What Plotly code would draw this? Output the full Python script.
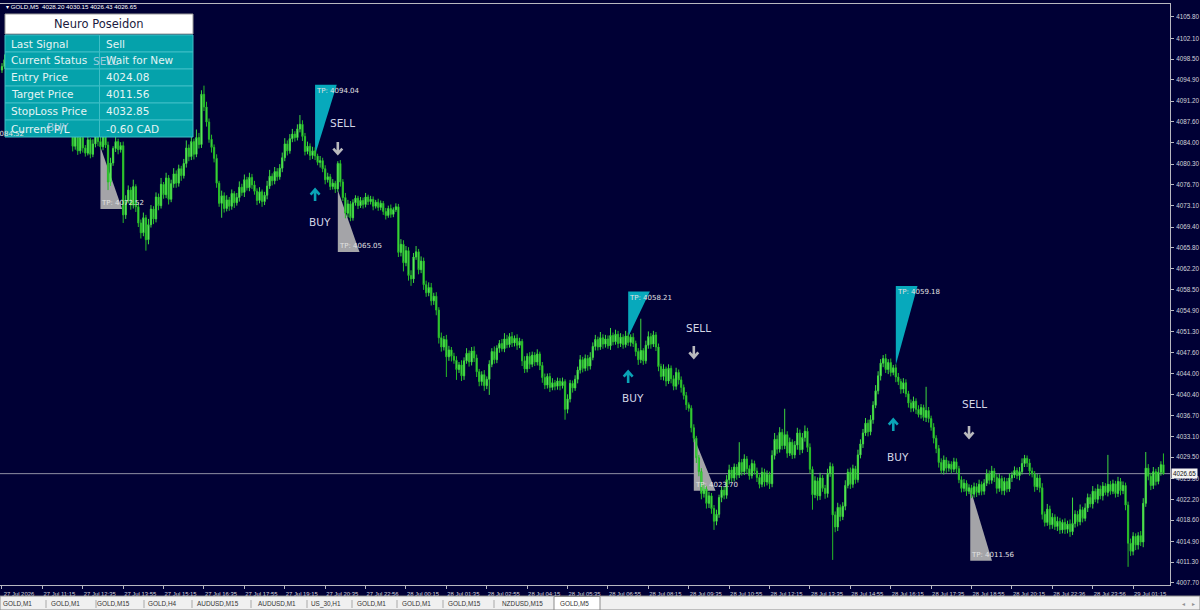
import plotly.graph_objects as go

W, H = 1200, 610
NAVY = "#000035"

# ---- GOLD,M5 bars (close of each 5 minute bar, oldest first) ----
first_open = 4096.6
closes = [
    4097.2, 4098.4, 4096.9, 4097.8, 4099.1, 4098.3, 4097.0, 4095.6, 4096.2, 4094.8,
    4095.5, 4093.9, 4094.6, 4092.8, 4093.4, 4091.7, 4092.5, 4090.9, 4091.6, 4090.2,
    4089.4, 4090.1, 4088.8, 4089.9, 4091.2, 4090.4, 4088.6, 4086.9, 4083.4, 4085.6,
    4082.6, 4084.9, 4083.1, 4082.2, 4084.5, 4082.0, 4083.8, 4085.4, 4084.2, 4083.3,
    4085.0, 4083.6, 4077.2, 4080.5, 4083.0, 4084.2, 4082.8, 4083.5, 4071.5, 4074.0,
    4075.8, 4073.2, 4076.4, 4072.9, 4070.1, 4068.4, 4071.0, 4067.2, 4069.8, 4072.5,
    4070.8, 4074.6, 4073.1, 4076.8, 4075.0, 4077.9, 4074.2, 4076.9, 4078.6, 4077.0,
    4079.5, 4078.3, 4080.4, 4083.1, 4081.6, 4084.2, 4082.0, 4084.9, 4083.7, 4092.4,
    4090.2, 4087.6, 4084.6, 4083.2, 4081.3, 4077.0, 4073.5, 4074.8, 4072.6, 4074.1,
    4073.0, 4075.2, 4073.6, 4074.5, 4076.3, 4075.4, 4077.6, 4076.2, 4078.0, 4076.7,
    4075.6, 4074.0, 4075.5, 4073.8, 4074.9, 4076.5, 4078.2, 4077.4, 4079.0, 4078.1,
    4079.6, 4081.4, 4083.8, 4082.6, 4084.7, 4085.5, 4084.9, 4086.4, 4087.2, 4085.1,
    4082.5, 4083.4, 4081.8, 4082.6, 4081.7, 4080.6, 4080.9, 4079.5, 4077.6, 4078.1,
    4076.4, 4077.0, 4076.0, 4080.4, 4077.2, 4074.5, 4071.8, 4073.4, 4071.0, 4073.6,
    4074.4, 4073.1, 4074.0, 4073.3, 4074.6, 4073.8, 4074.2, 4073.0, 4073.7, 4072.8,
    4073.5, 4072.1, 4071.4, 4072.6, 4071.6, 4072.4, 4072.9, 4065.0, 4066.4, 4063.2,
    4065.3, 4061.0, 4060.4, 4064.2, 4065.1, 4062.0, 4063.5, 4059.4, 4058.0, 4058.9,
    4056.6, 4057.4, 4055.0, 4050.2, 4048.6, 4049.9, 4046.9, 4048.1, 4047.0, 4046.3,
    4044.7, 4045.5, 4043.6, 4046.2, 4047.5, 4046.0, 4047.9, 4046.7, 4044.3, 4042.6,
    4043.8, 4041.9, 4043.0, 4045.6, 4047.8, 4046.4, 4048.4, 4049.2, 4048.3, 4050.0,
    4049.0, 4050.4, 4049.3, 4050.1, 4048.9, 4049.6, 4046.2, 4044.8, 4047.0, 4045.6,
    4047.2, 4046.0, 4047.4, 4045.4, 4043.3, 4042.0, 4043.5, 4041.6, 4042.4, 4041.8,
    4042.7, 4041.9, 4042.6, 4037.8, 4039.6, 4042.3, 4041.5, 4043.0, 4044.6, 4046.4,
    4044.9, 4046.6, 4045.3, 4046.8, 4048.7, 4049.9, 4048.6, 4050.2, 4049.1, 4050.0,
    4048.8, 4050.6, 4049.5, 4050.8, 4049.2, 4050.3, 4049.0, 4050.5, 4049.4, 4050.3,
    4049.2, 4047.8, 4046.4, 4048.0, 4046.2, 4048.9, 4050.4, 4049.1, 4050.7, 4048.6,
    4045.2, 4043.5, 4044.8, 4042.7, 4044.9, 4043.1, 4041.8, 4044.2, 4042.9, 4041.6,
    4040.2, 4038.6, 4038.0, 4034.6, 4032.8, 4029.4, 4027.0, 4023.2, 4024.0, 4021.5,
    4022.8, 4020.6, 4018.4, 4019.6, 4022.5, 4023.8, 4022.9, 4025.6, 4027.3, 4025.9,
    4027.8, 4026.4, 4028.6, 4027.0, 4029.2, 4027.5, 4026.3, 4028.4, 4027.1, 4026.0,
    4024.8, 4026.9, 4025.2, 4026.5, 4024.9, 4029.8, 4032.6, 4030.9, 4033.8, 4031.5,
    4033.4, 4030.2, 4032.1, 4029.9, 4031.6, 4033.7, 4030.8, 4032.9, 4034.0, 4031.2,
    4027.4, 4023.0, 4025.4, 4022.8, 4025.9, 4024.1, 4023.2, 4026.7, 4027.9, 4019.5,
    4017.4, 4020.8, 4019.2, 4021.0, 4024.6, 4026.9, 4024.8, 4027.5, 4025.6, 4029.9,
    4031.8, 4033.7, 4035.4, 4033.9, 4036.0, 4038.5, 4041.0, 4043.6, 4045.8, 4046.6,
    4044.7, 4045.9, 4044.2, 4045.0, 4043.4, 4042.6, 4041.3, 4042.4, 4040.5, 4038.9,
    4038.0, 4039.2, 4037.8, 4036.9, 4038.1, 4036.4, 4037.6, 4036.2, 4034.7, 4032.8,
    4031.0, 4028.6, 4027.2, 4029.0, 4027.6, 4028.3, 4027.4, 4028.7, 4027.5, 4025.6,
    4024.1, 4025.0, 4023.6, 4024.2, 4023.1, 4024.4, 4023.4, 4024.8, 4023.6, 4025.0,
    4026.6, 4025.5, 4027.1, 4026.0, 4024.1, 4025.8, 4023.7, 4025.3, 4024.0, 4025.9,
    4026.4, 4027.2, 4026.3, 4027.0, 4028.4, 4029.3, 4028.5, 4027.1, 4026.6, 4024.4,
    4025.9, 4024.2, 4019.6, 4018.2, 4020.5, 4017.8, 4019.1, 4017.5, 4018.4, 4016.9,
    4018.2, 4017.0, 4017.9, 4016.6, 4018.0, 4019.6, 4018.3, 4020.4, 4018.9, 4020.7,
    4022.5, 4021.4, 4023.6, 4022.2, 4024.0, 4022.8, 4024.5, 4023.4, 4024.8, 4023.6,
    4024.9, 4023.2, 4025.3, 4023.7, 4024.6, 4021.2, 4014.6, 4013.2, 4015.8, 4014.3,
    4015.9, 4014.8, 4021.5, 4027.6, 4026.2, 4024.6, 4027.0, 4025.3, 4026.9, 4028.2, 4026.65,
]
# upper / lower shadow lengths of each bar
wick_up = [
    0.6, 0.9, 0.4, 0.7, 1.1, 0.5, 0.3, 0.8, 0.6, 0.4,
    0.7, 0.5, 0.9, 0.3, 0.6, 0.8, 0.4, 0.7, 0.5, 0.6,
    0.4, 0.8, 0.5, 0.9, 1.2, 0.6, 0.7, 0.4, 0.5, 0.8,
    0.6, 0.4, 0.7, 0.5, 0.9, 0.3, 0.8, 1.0, 0.6, 2.0,
    0.7, 0.5, 0.6, 0.9, 0.4, 0.8, 0.5, 0.6, 0.7, 0.9,
    0.8, 0.5, 1.2, 0.4, 0.7, 0.6, 0.9, 0.5, 1.0, 0.7,
    0.5, 0.8, 0.6, 1.1, 0.4, 0.9, 0.5, 0.7, 1.0, 0.6,
    0.7, 0.5, 0.8, 1.3, 0.6, 0.9, 0.5, 1.4, 0.8, 0.7,
    1.5, 0.9, 0.6, 0.8, 0.5, 0.7, 0.4, 0.9, 0.6, 0.8,
    0.5, 0.7, 0.4, 0.8, 1.0, 0.6, 0.9, 0.5, 0.8, 0.6,
    0.7, 0.5, 0.8, 0.4, 0.6, 0.9, 1.1, 0.5, 0.8, 0.6,
    0.7, 0.9, 1.0, 0.6, 0.8, 0.9, 0.5, 0.8, 1.6, 0.7,
    0.6, 0.8, 0.5, 0.7, 0.6, 0.4, 0.8, 0.5, 0.6, 0.7,
    0.5, 0.7, 0.4, 0.4, 0.6, 0.5, 0.8, 0.7, 0.5, 0.6,
    0.5, 0.4, 0.6, 0.5, 0.7, 0.4, 0.6, 0.5, 0.4, 0.6,
    0.5, 0.4, 0.6, 0.5, 0.7, 0.4, 0.6, 0.5, 0.9, 0.7,
    0.8, 0.6, 0.9, 0.7, 1.0, 0.5, 0.8, 0.6, 0.7, 0.9,
    0.8, 0.6, 0.7, 0.5, 0.9, 0.6, 0.8, 0.7, 0.5, 0.6,
    0.7, 0.5, 0.8, 0.6, 0.9, 0.5, 0.7, 0.8, 0.6, 0.5,
    0.6, 0.8, 0.5, 0.7, 0.6, 0.9, 0.5, 0.6, 0.8, 1.0,
    0.7, 0.6, 0.8, 0.5, 0.7, 0.6, 0.4, 0.8, 0.5, 0.7,
    0.6, 0.5, 0.8, 0.4, 0.6, 0.7, 0.5, 0.6, 0.8, 0.5,
    0.6, 0.5, 0.7, 0.4, 0.8, 0.6, 0.5, 0.7, 0.6, 0.8,
    0.5, 0.7, 0.6, 0.9, 0.7, 0.8, 0.5, 1.0, 0.6, 0.7,
    0.6, 1.3, 0.5, 0.8, 0.6, 0.7, 0.5, 0.9, 0.6, 0.5,
    0.7, 0.5, 0.6, 5.5, 0.4, 0.8, 0.9, 0.6, 0.7, 0.5,
    0.6, 0.5, 0.8, 0.4, 0.7, 0.5, 0.6, 0.8, 0.5, 0.6,
    0.5, 0.6, 0.4, 0.5, 0.6, 0.4, 0.5, 0.6, 0.8, 0.5,
    0.7, 0.5, 0.6, 0.8, 0.5, 0.7, 0.6, 0.8, 0.9, 0.5,
    0.6, 0.5, 3.5, 0.6, 0.8, 0.5, 0.6, 0.7, 0.5, 0.6,
    0.5, 0.8, 0.6, 0.7, 0.5, 0.9, 1.1, 0.7, 0.9, 0.6,
    4.5, 0.6, 0.8, 0.5, 0.7, 0.9, 0.6, 0.8, 1.0, 0.6,
    0.7, 0.5, 0.8, 0.6, 0.9, 0.5, 0.6, 0.8, 0.7, 0.5,
    0.6, 0.8, 0.5, 0.7, 0.9, 0.6, 0.8, 0.7, 0.5, 0.9,
    0.8, 0.7, 0.9, 0.6, 0.8, 0.7, 1.0, 0.8, 0.7, 0.6,
    0.8, 0.6, 0.7, 0.5, 0.6, 0.7, 0.5, 0.8, 0.6, 0.5,
    0.6, 0.8, 0.5, 0.7, 0.6, 0.5, 4.1, 0.6, 0.5, 0.7,
    0.5, 0.6, 0.7, 0.8, 0.5, 0.6, 0.5, 0.7, 0.6, 0.5,
    0.6, 0.7, 0.5, 0.6, 0.5, 0.7, 0.6, 0.8, 0.5, 0.7,
    0.8, 0.6, 0.9, 0.5, 0.6, 0.8, 0.5, 0.7, 0.6, 0.8,
    0.6, 0.7, 0.5, 0.8, 0.9, 0.6, 0.5, 0.7, 0.6, 0.5,
    0.7, 0.6, 0.8, 0.5, 0.9, 0.6, 0.7, 0.5, 0.8, 0.6,
    0.5, 0.7, 0.6, 0.8, 4.5, 0.7, 0.6, 0.9, 0.5, 0.8,
    0.7, 0.6, 0.9, 0.5, 0.8, 0.6, 0.7, 0.5, 5.1, 0.6,
    0.7, 0.5, 0.8, 0.6, 0.7, 0.5, 0.6, 0.8, 0.7, 0.5,
    0.6, 0.8, 0.9, 2.8, 0.7, 0.6, 0.8, 0.5, 0.9, 0.6, 1.95,
]
wick_dn = [
    0.5, 0.4, 0.8, 0.6, 0.3, 0.7, 0.5, 0.9, 0.4, 0.6,
    0.5, 0.8, 0.4, 0.7, 0.6, 0.5, 0.9, 0.4, 0.7, 0.6,
    0.8, 0.5, 1.0, 0.6, 0.4, 0.7, 0.5, 0.8, 0.9, 0.6,
    0.7, 0.5, 0.8, 0.6, 0.4, 0.7, 0.5, 0.6, 0.8, 0.5,
    0.6, 0.5, 1.4, 0.7, 0.5, 0.6, 0.8, 0.5, 1.4, 0.7,
    0.5, 0.8, 0.6, 0.9, 0.7, 1.0, 0.6, 1.9, 0.8, 0.5,
    0.9, 0.6, 0.8, 0.5, 0.7, 0.6, 0.9, 0.5, 0.7, 0.8,
    0.6, 0.9, 0.5, 0.7, 0.8, 0.6, 0.9, 0.5, 0.7, 0.6,
    0.7, 0.8, 0.6, 0.9, 0.7, 0.8, 0.6, 2.5, 0.7, 0.5,
    0.8, 0.6, 0.9, 0.5, 0.7, 0.6, 0.8, 0.5, 0.6, 0.7,
    0.6, 0.8, 0.5, 0.9, 0.6, 0.7, 0.5, 0.8, 0.6, 0.7,
    0.5, 0.7, 0.6, 0.8, 0.5, 0.6, 0.7, 0.5, 0.6, 0.8,
    0.7, 0.5, 0.8, 0.6, 0.7, 0.5, 0.9, 0.6, 0.8, 0.5,
    0.6, 0.5, 0.7, 0.5, 0.8, 0.6, 0.9, 0.7, 0.6, 0.5,
    0.5, 0.6, 0.4, 0.7, 0.5, 0.6, 0.5, 0.7, 0.4, 0.6,
    0.5, 0.6, 0.7, 0.4, 0.6, 0.5, 0.4, 0.8, 0.7, 1.5,
    0.6, 0.9, 1.2, 0.7, 0.5, 0.8, 0.6, 0.9, 0.7, 0.6,
    0.8, 0.7, 0.9, 1.0, 0.8, 0.6, 3.5, 0.7, 0.9, 0.6,
    1.8, 0.6, 0.9, 0.7, 0.5, 0.8, 0.6, 0.7, 0.9, 0.8,
    0.7, 0.9, 0.6, 2.7, 0.5, 0.7, 0.6, 0.8, 0.5, 0.6,
    0.6, 0.5, 0.7, 0.6, 0.8, 0.5, 0.9, 0.7, 0.6, 0.8,
    0.5, 0.7, 0.6, 0.8, 0.9, 0.7, 0.6, 0.8, 0.5, 0.7,
    0.6, 0.8, 0.5, 1.8, 0.7, 0.6, 0.8, 0.5, 0.7, 0.6,
    0.7, 0.5, 0.8, 0.6, 0.5, 0.7, 0.6, 0.5, 0.8, 0.6,
    0.5, 0.7, 0.6, 0.5, 0.8, 0.6, 0.7, 0.5, 0.6, 0.7,
    0.6, 0.8, 0.9, 0.6, 0.7, 0.5, 0.6, 0.8, 0.5, 0.7,
    0.8, 0.6, 0.7, 0.9, 0.5, 0.8, 0.7, 0.6, 0.8, 0.9,
    0.7, 0.9, 0.6, 0.8, 0.7, 0.9, 0.8, 1.0, 0.7, 0.9,
    0.8, 0.9, 1.5, 0.7, 0.6, 0.8, 0.7, 0.6, 0.8, 0.7,
    0.6, 0.8, 0.5, 0.7, 0.6, 0.8, 0.7, 0.5, 0.6, 0.8,
    0.7, 0.5, 0.8, 0.6, 0.9, 0.6, 0.7, 0.8, 0.6, 0.7,
    0.6, 0.8, 0.5, 0.7, 0.6, 0.8, 0.9, 0.6, 0.7, 0.8,
    0.7, 2.6, 0.6, 0.8, 0.7, 0.6, 0.9, 0.7, 0.6, 7.8,
    0.9, 0.7, 0.8, 0.6, 0.7, 0.5, 0.8, 0.6, 0.7, 0.5,
    0.6, 0.7, 0.5, 0.8, 0.6, 0.7, 0.5, 0.6, 0.8, 0.7,
    0.6, 0.8, 0.7, 0.5, 0.9, 0.6, 0.8, 0.7, 0.6, 0.8,
    0.7, 0.6, 0.8, 0.5, 0.7, 0.6, 0.8, 0.7, 0.6, 0.9,
    0.8, 0.9, 0.6, 0.7, 0.8, 0.6, 0.7, 0.5, 0.8, 0.6,
    0.7, 0.6, 0.8, 0.5, 0.7, 0.6, 0.8, 0.5, 0.7, 0.6,
    0.5, 0.7, 0.6, 0.8, 0.9, 0.6, 0.7, 0.8, 0.6, 0.5,
    0.7, 0.5, 0.6, 0.8, 0.5, 0.6, 0.7, 0.8, 0.6, 0.9,
    0.6, 0.8, 0.9, 0.7, 0.6, 0.8, 0.7, 0.6, 0.8, 0.7,
    0.6, 0.8, 0.7, 0.9, 0.6, 0.7, 0.8, 0.6, 0.7, 0.5,
    0.7, 0.6, 0.8, 0.5, 0.7, 0.6, 0.8, 0.5, 0.7, 0.6,
    0.5, 0.7, 0.6, 0.8, 0.6, 0.9, 4.1, 0.8, 0.7, 0.9,
    0.8, 0.7, 0.9, 0.6, 0.7, 0.8, 0.6, 0.7, 0.5, 0.6, 0.22,
]

time_labels = [
    "27 Jul 2026", "27 Jul 11:15", "27 Jul 12:35", "27 Jul 13:55", "27 Jul 15:15",
    "27 Jul 16:35", "27 Jul 17:55", "27 Jul 19:15", "27 Jul 20:35", "27 Jul 22:56",
    "28 Jul 00:15", "28 Jul 01:35", "28 Jul 02:55", "28 Jul 04:15", "28 Jul 05:35",
    "28 Jul 06:55", "28 Jul 08:15", "28 Jul 09:35", "28 Jul 10:55", "28 Jul 12:15",
    "28 Jul 13:35", "28 Jul 14:55", "28 Jul 16:15", "28 Jul 17:35", "28 Jul 18:55",
    "28 Jul 20:15", "28 Jul 22:36", "28 Jul 23:56", "29 Jul 01:15",
]
bars_per_label = 16
price_ticks = [
    4105.80, 4102.10, 4098.50, 4094.90, 4091.20, 4087.60, 4084.00, 4080.30,
    4076.70, 4073.10, 4069.40, 4065.80, 4062.20, 4058.50, 4054.90, 4051.30,
    4047.60, 4044.00, 4040.40, 4036.70, 4033.10, 4029.50, 4025.80, 4022.20,
    4018.60, 4014.90, 4011.30, 4007.70,
]
bid_price = 4026.65

# indicator output: signal arrows and target triangles
signal_side = ["BUY", "SELL", "BUY", "SELL", "BUY", "SELL"]
signal_bar = [124, 133, 248, 274, 353, 383]
signal_arrow_price = [4074.94, 4083.09, 4043.40, 4047.74, 4035.08, 4033.87]
signal_label_price = [4070.27, 4087.42, 4039.76, 4051.89, 4029.54, 4038.72]
hidden_label_side = ["SELL", "BUY"]
hidden_label_bar = [41, 22]
hidden_label_price = [4098.15, 4086.72]

trade_side = ["SELL", "BUY", "SELL", "BUY", "SELL", "BUY", "SELL"]
trade_bar = [39, 124, 133, 248, 274, 354, 383.5]
trade_entry = [4083.26, 4081.88, 4075.81, 4050.33, 4033.00, 4045.48, 4024.08]
trade_tp = [4072.52, 4094.04, 4065.05, 4058.21, 4023.70, 4059.18, 4011.56]
offchart_tp = 4084.52

panel_title = "Neuro Poseidon"
panel_keys = ["Last Signal", "Current Status", "Entry Price", "Target Price",
              "StopLoss Price", "Current P/L"]
panel_vals = ["Sell", "Wait for New", "4024.08", "4011.56", "4032.85", "-0.60 CAD"]

tabs = ["GOLD,M1", "GOLD,M1", "GOLD,M15", "GOLD,H4", "AUDUSD,M15", "AUDUSD,M1",
        "US_30,H1", "GOLD,M1", "GOLD,M1", "GOLD,M15", "NZDUSD,M15", "GOLD,M5"]


def px(x):
    return x / W


def py(y):
    return 1 - y / H


n = len(closes)
bars = list(range(n))
opens = [first_open] + closes[:-1]
highs = [max(o, c) + u for o, c, u in zip(opens, closes, wick_up)]
lows = [min(o, c) - d for o, c, d in zip(opens, closes, wick_dn)]

fig = go.Figure(
    go.Candlestick(
        x=bars, open=opens, high=highs, low=lows, close=closes,
        increasing=dict(line=dict(color="#3ED83E", width=1), fillcolor="#8CFF8C"),
        decreasing=dict(line=dict(color="#26BC26", width=1), fillcolor="#5CF05C"),
        hoverinfo="skip",
    )
)

shapes = []
annotations = []
small = dict(family="Liberation Sans", size=6.3, color="#D4D4DC")
tp_font = dict(family="DejaVu Sans", size=7, color="#E2E2E2")

# target triangles (behind the bars)
tri_bars = 8.6
for side, b, e, tp in zip(trade_side, trade_bar, trade_entry, trade_tp):
    color = "#07A9BC" if side == "BUY" else "#A4A4A8"
    shapes.append(dict(
        type="path", xref="x", yref="y", layer="below", line=dict(width=0),
        fillcolor=color, path=f"M {b},{e} L {b},{tp} L {b + tri_bars},{tp} Z",
    ))
    annotations.append(dict(
        x=b, y=tp, xref="x", yref="y", xanchor="left",
        yanchor="top" if side == "BUY" else "bottom", showarrow=False,
        text=f"TP: {tp:.2f}", font=tp_font, xshift=-1,
    ))
annotations.append(dict(
    x=px(-21), y=offchart_tp, xref="paper", yref="y", xanchor="left", yanchor="bottom",
    showarrow=False, text=f"TP: {offchart_tp:.2f}", font=tp_font,
))

# bid line
shapes.append(dict(type="line", xref="x domain", yref="y", x0=0, x1=1, y0=bid_price,
                   y1=bid_price, layer="below", line=dict(color="#8F8FA3", width=1)))

# signal arrows (drawn in pixels around their anchor) + labels
up_arrow = "M 0,-6 L 0,5 M -4.5,0.5 L 0,5.5 L 4.5,0.5"
down_arrow = "M 0,6 L 0,-5 M -4.5,-0.5 L 0,-5.5 L 4.5,-0.5"
for side, b, ap, lp in zip(signal_side, signal_bar, signal_arrow_price, signal_label_price):
    buy = side == "BUY"
    shapes.append(dict(
        type="path", xref="x", yref="y", xsizemode="pixel", ysizemode="pixel",
        xanchor=b, yanchor=ap, path=up_arrow if buy else down_arrow,
        line=dict(color="#0AA3B6" if buy else "#B9B9BD", width=2.6),
    ))
    annotations.append(dict(
        x=b, y=lp, xref="x", yref="y", xanchor="center", yanchor="middle",
        showarrow=False, text=side, xshift=5,
        font=dict(family="DejaVu Sans", size=10.5, color="#D4D6E6"),
    ))

# info panel
shapes.append(dict(type="rect", xref="paper", yref="paper", layer="above",
                   x0=px(5), x1=px(193), y0=py(34), y1=py(14),
                   fillcolor="#FFFFFF", line=dict(color="#9A9A9A", width=1)))
annotations.append(dict(x=px(99), y=py(24), xref="paper", yref="paper",
                        xanchor="center", yanchor="middle", showarrow=False,
                        text=panel_title,
                        font=dict(family="DejaVu Sans", size=11.5, color="#1B1B40")))
for r, (k, v) in enumerate(zip(panel_keys, panel_vals)):
    top = 35 + 17 * r
    for x0, x1 in ((5, 99.5), (99.5, 193)):
        shapes.append(dict(type="rect", xref="paper", yref="paper", layer="above",
                           x0=px(x0), x1=px(x1), y0=py(top + 17), y1=py(top),
                           fillcolor="#05A2AB", line=dict(color="#3EBEC6", width=1)))
    for x, t in ((9, k), (104, v)):
        annotations.append(dict(x=px(x), y=py(top + 8.5), xref="paper", yref="paper",
                                xanchor="left", yanchor="middle", showarrow=False, text=t,
                                font=dict(family="DejaVu Sans", size=10.5, color="#E4F4F4")))
for side, b, p in zip(hidden_label_side, hidden_label_bar, hidden_label_price):
    annotations.append(dict(x=b, y=p, xref="x", yref="y", xanchor="center",
                            yanchor="middle", showarrow=False, text=side,
                            font=dict(family="DejaVu Sans", size=10.5,
                                      color="rgba(205,215,235,0.75)")))

# header + current price box
annotations.append(dict(
    x=px(4), y=py(6.5), xref="paper", yref="paper", xanchor="left", yanchor="middle",
    showarrow=False,
    text=f"▾ GOLD,M5  {opens[-1]:.2f} {highs[-1]:.2f} {lows[-1]:.2f} {closes[-1]:.2f}",
    font=dict(family="Liberation Sans", size=6.2, color="#FFFFFF"),
))
annotations.append(dict(
    x=px(1171), y=bid_price, xref="paper", yref="y", xanchor="left", yanchor="middle",
    showarrow=False, text=f"{bid_price:.2f}", bgcolor="#F4F4F4", borderpad=1,
    font=dict(family="Liberation Sans", size=6.3, color="#101010"),
))

# tab bar
shapes.append(dict(type="rect", xref="paper", yref="paper", layer="above",
                   x0=0, x1=1, y0=0, y1=py(596), fillcolor="#F0F0F0",
                   line=dict(color="#8C8C8C", width=1)))
shapes.append(dict(type="rect", xref="paper", yref="paper", layer="above",
                   x0=px(554), x1=px(600), y0=py(610), y1=py(596.5), fillcolor="#FFFFFF",
                   line=dict(color="#8C8C8C", width=1)))
tab_centers = [17.6, 65, 113, 162, 218, 277, 326, 371, 416, 464, 522, 574]
for c, t in zip(tab_centers, tabs):
    annotations.append(dict(x=px(c), y=py(603.5), xref="paper", yref="paper",
                            xanchor="center", yanchor="middle", showarrow=False, text=t,
                            font=dict(family="Liberation Sans", size=6.4, color="#333333")))
for sx in [46, 96, 144, 192, 251, 307, 352, 397, 443, 494]:
    shapes.append(dict(type="line", xref="paper", yref="paper", layer="above",
                       x0=px(sx), x1=px(sx), y0=py(600), y1=py(608),
                       line=dict(color="#A8A8A8", width=1)))
for ax_x, t in ((1183, "◂"), (1193, "▸")):
    annotations.append(dict(x=px(ax_x), y=py(603.5), xref="paper", yref="paper",
                            xanchor="center", yanchor="middle", showarrow=False, text=t,
                            font=dict(family="DejaVu Sans", size=6, color="#909090")))

fig.update_layout(
    width=W, height=H, margin=dict(l=0, r=0, t=0, b=0),
    paper_bgcolor=NAVY, plot_bgcolor=NAVY, showlegend=False,
    shapes=shapes, annotations=annotations,
    xaxis=dict(
        domain=[0, 1170 / W], range=[-0.79, 462.6], rangeslider=dict(visible=False),
        showgrid=False, zeroline=False, fixedrange=True,
        tickvals=[bars_per_label * k for k in range(len(time_labels))],
        ticktext=time_labels, ticks="outside", ticklen=3, tickcolor="#B8B8C0",
        tickfont=dict(family="Liberation Sans", size=5.9, color="#D4D4DC"),
        ticklabelshift=17, ticklabelstandoff=0,
        showline=True, linecolor="#B8B8C0", linewidth=1, mirror=True,
    ),
    yaxis=dict(
        domain=[25 / H, 606 / H], range=[4007.35, 4108.05], side="right",
        showgrid=False, zeroline=False, fixedrange=True,
        tickvals=price_ticks, ticktext=[f"{p:.2f}" for p in price_ticks],
        ticks="outside", ticklen=3, tickcolor="#B8B8C0", tickfont=small,
        ticklabelstandoff=1,
        showline=True, linecolor="#B8B8C0", linewidth=1, mirror=True,
    ),
)

fig.write_html("out.html", config={"displayModeBar": False},
               post_script="document.body.style.margin = '0';")
